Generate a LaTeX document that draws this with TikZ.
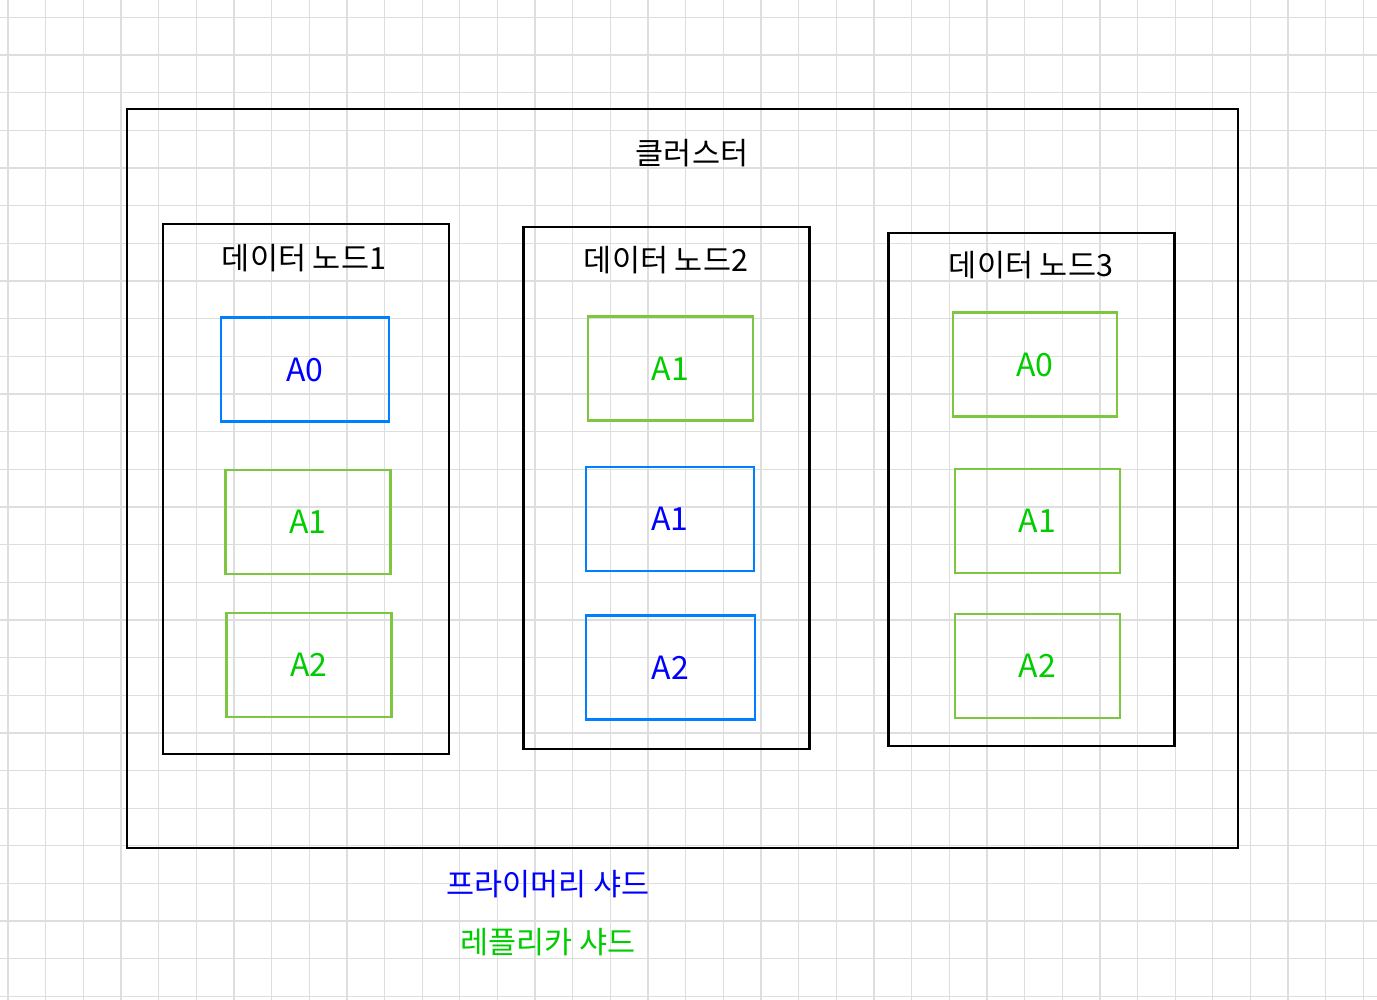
\documentclass[tikz,border=0pt]{standalone}
\usepackage{fontspec}
\setmainfont{Noto Sans CJK KR}
\usepackage{xcolor}
\usepackage{tikz}
\usetikzlibrary{positioning}
\definecolor{gridgray}{RGB}{222, 222, 222}
\definecolor{primaryline}{RGB}{0, 127, 255}
\definecolor{primarytext}{RGB}{0, 0, 255}
\definecolor{replicaline}{RGB}{125, 198, 66}
\definecolor{replicatext}{RGB}{0, 204, 0}

\begin{document}
\begin{tikzpicture}[x=1pt, y=-1pt,
    every node/.style={font=\fontsize{30.5}{36}\selectfont, inner sep=0pt},
    frame/.style={draw=black, line width=2.5pt},
    datanode/.style={frame, minimum width=286pt},
    shard/.style={line width=2.8pt, font=\fontsize{32}{38}\selectfont, minimum height=104pt},
    primary/.style={shard, draw=primaryline, text=primarytext, minimum width=168pt},
    replica/.style={shard, draw=replicaline, text=replicatext, minimum width=165pt}]
  \useasboundingbox (0,0) rectangle (1377,1000);
  \fill[white] (0,0) rectangle (1377,1000);

  % Grid
  \foreach \i in {0,...,36}
    \draw[gridgray, line width=1.3pt] (8+37.65*\i, 0) -- (8+37.65*\i, 1000);
  \foreach \j in {0,...,26}
    \draw[gridgray, line width=1.3pt] (0, 17.5+37.65*\j) -- (1377, 17.5+37.65*\j);

  % Cluster
  \node[frame, minimum width=1111pt, minimum height=739pt] (cluster) at (682.5, 478.5) {};
  \node (clustertitle) at (692, 153) {클러스터};

  % Data nodes
  \node[datanode, minimum height=530pt] (node1) at (306, 489) {};
  \node[datanode, minimum height=522pt] (node2) at (666.5, 488) {};
  \node[datanode, minimum height=513pt] (node3) at (1031.5, 489.5) {};
  \node (title1) at (304, 258) {데이터 노드1};
  \node (title2) at (666, 260) {데이터 노드2};
  \node (title3) at (1031, 265) {데이터 노드3};

  % Shards in data node 1
  \node[primary] (n1a0) at (305, 369.5) {A0};
  \node[replica] (n1a1) at (308, 522) {A1};
  \node[replica] (n1a2) at (309, 665) {A2};

  % Shards in data node 2
  \node[replica, minimum width=165pt] (n2a1r) at (670.5, 368.5) {A1};
  \node[primary] (n2a1p) at (670, 519) {A1};
  \node[primary, minimum width=169pt] (n2a2) at (670.5, 667.5) {A2};

  % Shards in data node 3
  \node[replica, minimum width=164pt] (n3a0) at (1035, 364.5) {A0};
  \node[replica] (n3a1) at (1037.5, 521) {A1};
  \node[replica] (n3a2) at (1037.5, 666) {A2};

  % Legend
  \node[text=primarytext] (legendprimary) at (548, 884) {프라이머리 샤드};
  \node[text=replicatext] (legendreplica) at (548, 942) {레플리카 샤드};
\end{tikzpicture}
\end{document}
